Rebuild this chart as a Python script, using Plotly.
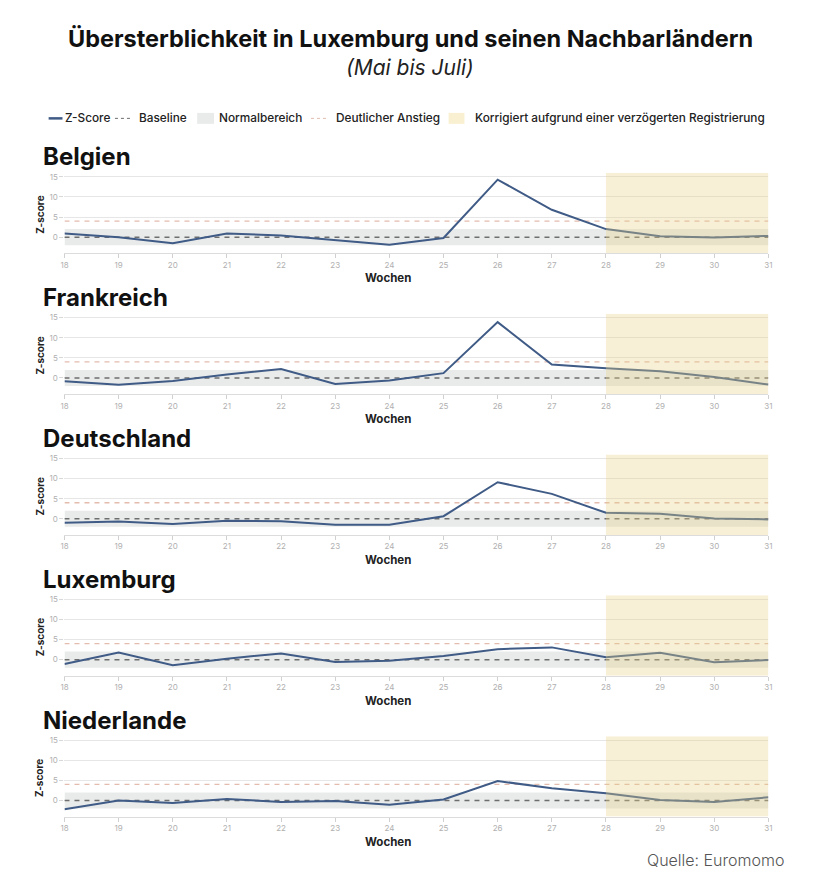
import plotly.graph_objects as go

# ---- data ----
weeks = list(range(18, 32))
countries = ["Belgien", "Frankreich", "Deutschland", "Luxemburg", "Niederlande"]
z_belgien = [0.9, 0.0, -1.5, 0.9, 0.4, -0.8, -1.9, -0.2, 14.3, 6.8, 2.0, 0.25, -0.1, 0.3]
z_frankreich = [-0.8, -1.7, -0.75, 0.85, 2.25, -1.5, -0.65, 1.2, 13.9, 3.35, 2.4, 1.7, 0.25, -1.65]
z_deutschland = [-1.0, -0.65, -1.3, -0.5, -0.6, -1.5, -1.5, 0.65, 9.1, 6.2, 1.5, 1.25, 0.1, -0.15]
z_luxemburg = [-1.1, 1.8, -1.4, 0.25, 1.55, -0.6, -0.3, 0.9, 2.6, 3.05, 0.6, 1.7, -0.65, -0.1]
z_niederlande = [-2.2, 0.0, -0.65, 0.4, -0.35, -0.1, -1.05, 0.25, 4.85, 3.05, 1.8, 0.15, -0.35, 0.8]
series = [z_belgien, z_frankreich, z_deutschland, z_luxemburg, z_niederlande]
baseline_value = 0
normal_low, normal_high = -2, 2
anstieg_value = 4
korr_start, korr_end = 28, 31
y_ticks = [0, 5, 10, 15]
y_range = [-4, 16]
legend_labels = ["Z-Score", "Baseline", "Normalbereich", "Deutlicher Anstieg",
                 "Korrigiert aufgrund einer verzögerten Registrierung"]

# ---- style ----
PAGE_OFF = 8            # default body margin of the page
W, H = 820 - 2 * PAGE_OFF, 884 - 2 * PAGE_OFF
FONT = "Inter"
LINE_COL = "#3f5b86"
BASE_COL = "#6e6e6e"
ANST_COL = "#e3bcae"
NORM_COL = "#e9ebeb"
KORR_COL = "rgba(232,208,135,0.34)"
KORR_LEG = "#f8f0d0"
GRID_COL = "#e6e6e6"
TICK_COL = "#b0b0b0"


def px(x):
    return (x - PAGE_OFF) / W


def py(y):
    return 1 - (y - PAGE_OFF) / H


fig = go.Figure()

x_left, x_right = 61, 772
panel_top0, panel_step, panel_h = 172, 141, 80.5

annotations = []
shapes = []
layout_axes = {}
for i, (name, z) in enumerate(zip(countries, series)):
    n = "" if i == 0 else str(i + 1)
    xa, ya = "x" + n, "y" + n
    top = panel_top0 + i * panel_step
    bot = top + panel_h
    fig.add_trace(go.Scatter(
        x=[weeks[0], weeks[-1], weeks[-1], weeks[0], weeks[0]],
        y=[normal_low, normal_low, normal_high, normal_high, normal_low],
        fill="toself", fillcolor=NORM_COL, mode="lines", line=dict(width=0, color=NORM_COL),
        name=legend_labels[2], showlegend=False, hoverinfo="skip", xaxis=xa, yaxis=ya))
    fig.add_trace(go.Scatter(
        x=[weeks[0], weeks[-1]], y=[baseline_value, baseline_value], mode="lines",
        line=dict(color=BASE_COL, width=1.5, dash="5px,5px"),
        name=legend_labels[1], showlegend=False, hoverinfo="skip", xaxis=xa, yaxis=ya))
    fig.add_trace(go.Scatter(
        x=[weeks[0], weeks[-1]], y=[anstieg_value, anstieg_value], mode="lines",
        line=dict(color=ANST_COL, width=1.3, dash="5px,5px"),
        name=legend_labels[3], showlegend=False, hoverinfo="skip", xaxis=xa, yaxis=ya))
    fig.add_trace(go.Scatter(
        x=weeks, y=z, mode="lines", line=dict(color=LINE_COL, width=2),
        name=name, showlegend=False, xaxis=xa, yaxis=ya))
    fig.add_trace(go.Scatter(
        x=[korr_start, korr_end, korr_end, korr_start, korr_start],
        y=[y_range[0], y_range[0], y_range[1], y_range[1], y_range[0]],
        fill="toself", fillcolor=KORR_COL, mode="lines", line=dict(width=0, color=KORR_COL),
        name=legend_labels[4], showlegend=False, hoverinfo="skip", xaxis=xa, yaxis=ya))

    layout_axes["xaxis" + n] = dict(
        domain=[px(x_left), px(x_right)], range=[weeks[0], weeks[-1]], anchor=ya,
        tickmode="array", tickvals=weeks, ticks="outside", ticklen=4, tickcolor="#d0d0d0",
        showline=True, linecolor="#dcdcdc", linewidth=1, showgrid=False, zeroline=False,
        tickfont=dict(family=FONT, size=8, color=TICK_COL), fixedrange=True)
    layout_axes["yaxis" + n] = dict(
        domain=[py(bot), py(top)], range=y_range, anchor=xa,
        tickmode="array", tickvals=y_ticks, ticks="outside", ticklen=4, tickcolor="#d8d8d8",
        showgrid=True, gridcolor=GRID_COL, gridwidth=1, zeroline=False, showline=False,
        tickfont=dict(family=FONT, size=8, color=TICK_COL), fixedrange=True)

    annotations.append(dict(
        text="<b>" + name + "</b>", x=px(37), y=py(top - 16), xref="paper", yref="paper",
        xanchor="left", yanchor="middle", showarrow=False,
        font=dict(family=FONT, size=24, color="#111111")))
    annotations.append(dict(
        text="<b>Z-score</b>", x=px(36), y=py((top + bot) / 2 + 2), xref="paper", yref="paper",
        xanchor="center", yanchor="middle", textangle=-90, showarrow=False,
        font=dict(family=FONT, size=10, color="#222222")))
    annotations.append(dict(
        text="<b>Wochen</b>", x=px(388), y=py(bot + 25), xref="paper", yref="paper",
        xanchor="center", yanchor="middle", showarrow=False,
        font=dict(family=FONT, size=11.5, color="#222222")))

# ---- legend (drawn manually to match compact symbols) ----
leg_y = 117.5
shapes.append(dict(type="line", xref="paper", yref="paper", x0=px(45), x1=px(59),
                   y0=py(leg_y), y1=py(leg_y), line=dict(color=LINE_COL, width=2.5)))
shapes.append(dict(type="line", xref="paper", yref="paper", x0=px(112), x1=px(130),
                   y0=py(leg_y), y1=py(leg_y), line=dict(color=BASE_COL, width=1, dash="dot")))
shapes.append(dict(type="rect", xref="paper", yref="paper", x0=px(195), x1=px(212),
                   y0=py(123), y1=py(112), fillcolor=NORM_COL, line=dict(width=0)))
shapes.append(dict(type="line", xref="paper", yref="paper", x0=px(310), x1=px(328),
                   y0=py(leg_y), y1=py(leg_y), line=dict(color=ANST_COL, width=1, dash="dot")))
shapes.append(dict(type="rect", xref="paper", yref="paper", x0=px(449), x1=px(465),
                   y0=py(123), y1=py(112), fillcolor=KORR_LEG, line=dict(width=0)))
for lx, lab in zip([60, 134, 215, 333, 474], legend_labels):
    annotations.append(dict(
        text=lab, x=px(lx), y=py(leg_y), xref="paper", yref="paper",
        xanchor="left", yanchor="middle", showarrow=False,
        font=dict(family=FONT, size=11.8, color="#222222", weight=500)))

annotations.append(dict(
    text="<b>Übersterblichkeit in Luxemburg und seinen Nachbarländern</b>",
    x=px(410), y=py(38), xref="paper", yref="paper", xanchor="center", yanchor="middle",
    showarrow=False, font=dict(family=FONT, size=23.5, color="#111111")))
annotations.append(dict(
    text="<i>(Mai bis Juli)</i>", x=px(410), y=py(67), xref="paper", yref="paper",
    xanchor="center", yanchor="middle", showarrow=False,
    font=dict(family=FONT, size=21, color="#222222")))
annotations.append(dict(
    text="Quelle: Euromomo", x=px(790), y=py(860), xref="paper", yref="paper",
    xanchor="right", yanchor="middle", showarrow=False,
    font=dict(family=FONT, size=16, color="#555555", weight=300)))

fig.update_layout(
    width=W, height=H, margin=dict(l=0, r=0, t=0, b=0),
    paper_bgcolor="white", plot_bgcolor="white",
    showlegend=False,
    annotations=annotations,
    shapes=shapes,
    **layout_axes,
)

fig.write_html("out.html")
